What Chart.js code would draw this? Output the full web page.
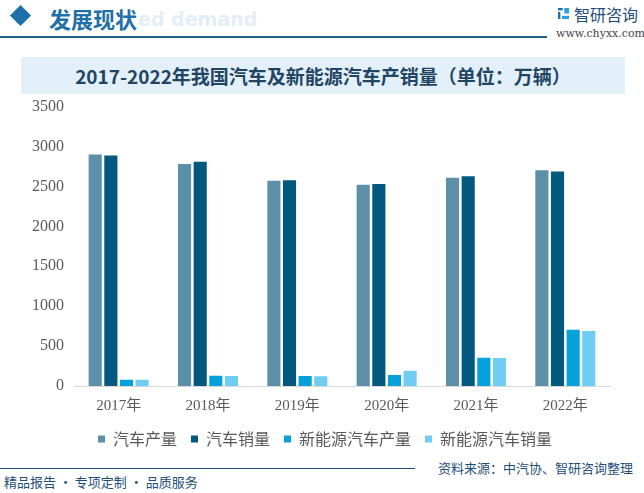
<!DOCTYPE html>
<html>
<head>
<meta charset="utf-8">
<script src="https://cdn.jsdelivr.net/npm/chart.js@4"></script>
<style>
    html, body {margin: 0; padding: 0; background: #fff;}
    body {width: 644px; height: 493px; position: relative; overflow: hidden; font-family: "Noto Sans CJK SC", "Noto Sans", sans-serif;}
    .abs {position: absolute;}
    #diamond {left: 13px; top: 8px; width: 15px; height: 15px; background: #1f6fa8; transform: rotate(45deg);}
    #head {left: 49px; top: 2px; font-size: 22px; font-weight: bold; color: #1f6fa8;}
    #ghost {left: 138px; top: 8px; font-size: 19px; font-weight: bold; color: #e4eef6; font-family: "DejaVu Sans", sans-serif;}
    #hline {left: 0; top: 36px; width: 547px; height: 2px; background: #1f6080;}
    #logo {left: 558px; top: 8px; width: 11px; height: 11px;}
    #logotext {left: 574px; top: 2px; font-size: 16px; color: #1f4e79;}
    #url {left: 556px; top: 27px; font-size: 11px; color: #444; font-family: "DejaVu Serif", serif;}
    #tbox {left: 21px; top: 57px; width: 604px; height: 37px; background: #e3f0f9;}
    #title {left: 21px; top: 57px; width: 604px; height: 37px; line-height: 37px; text-align: center; font-size: 19px; font-weight: bold; color: #1f4563;}
    #chartbox {left: 0; top: 87px; width: 636px; height: 363px;}
    #fline {left: 0; top: 468px; width: 415px; height: 1px; background: #1f4e79;}
    #slogan {left: 4px; top: 472px; font-size: 13px; color: #1f4e79;}
    #source {left: 438px; top: 458px; font-size: 13px; color: #1f4e79;}
</style>
</head>
<body>
<div class="abs" id="diamond"></div>
<div class="abs" id="ghost">ed demand</div>
<div class="abs" id="head">发展现状</div>
<div class="abs" id="hline"></div>
<svg class="abs" id="logo" viewBox="0 0 14 14">
    <rect x="0" y="0" width="6" height="3" fill="#1f6fa8"/>
    <rect x="0" y="5" width="3" height="9" fill="#1f6fa8"/>
    <rect x="8" y="0" width="6" height="7" fill="#2aa0dc"/>
    <rect x="5" y="10" width="9" height="4" fill="#2aa0dc"/>
</svg>
<div class="abs" id="logotext">智研咨询</div>
<div class="abs" id="url">www.chyxx.com</div>
<div class="abs" id="tbox"></div>
<div class="abs" id="title">2017-2022年我国汽车及新能源汽车产销量（单位：万辆）</div>
<div class="abs" id="chartbox"><canvas id="chart"></canvas></div>
<div class="abs" id="fline"></div>
<div class="abs" id="slogan">精品报告 · 专项定制 · 品质服务</div>
<div class="abs" id="source">资料来源：中汽协、智研咨询整理</div>

<script>
const YEARS = ['2017年', '2018年', '2019年', '2020年', '2021年', '2022年'];
const CAR_PRODUCTION = [2901.5, 2780.9, 2572.1, 2522.5, 2608.2, 2702.1];
const CAR_SALES = [2887.9, 2808.1, 2576.9, 2531.1, 2627.5, 2686.4];
const NEV_PRODUCTION = [79.4, 127, 124.2, 136.6, 354.5, 705.8];
const NEV_SALES = [77.7, 125.6, 120.6, 190, 352.1, 688.7];

const SERIES = [
    {label: '汽车产量', data: CAR_PRODUCTION, color: '#5e8fa8'},
    {label: '汽车销量', data: CAR_SALES, color: '#03587f'},
    {label: '新能源汽车产量', data: NEV_PRODUCTION, color: '#05a1db'},
    {label: '新能源汽车销量', data: NEV_SALES, color: '#6fcdf3'},
];

// legend keeps wide gaps between items but sits close to the axis labels,
// and is nudged right so it centres under the plot like the original
const tightLegend = {
    id: 'tightLegend',
    afterInit(chart) {
        const legend = chart.legend;
        const fit = legend.fit;
        legend.fit = function () {
            fit.apply(this, arguments);
            this.height -= 16;
        };
    },
    afterLayout(chart) {
        const legend = chart.legend;
        legend.top -= 9;
        legend.left += 9;
        legend.right += 9;
    },
};

new Chart(document.getElementById('chart'), {
    type: 'bar',
    data: {
        labels: YEARS,
        datasets: SERIES.map(s => ({
            label: s.label,
            data: s.data,
            backgroundColor: s.color,
            borderWidth: 0,
            categoryPercentage: 0.7,
            barPercentage: 0.84,
        })),
    },
    options: {
        responsive: true,
        maintainAspectRatio: false,
        animation: false,
        layout: {padding: {left: 22, right: 26, top: 2, bottom: 0}},
        scales: {
            x: {
                grid: {display: false, drawTicks: false},
                border: {color: '#d9d9d9'},
                ticks: {color: '#595959', padding: 11, font: {size: 15, family: '"Liberation Serif", "Noto Sans CJK SC", serif'}},
            },
            y: {
                min: 0,
                max: 3500,
                grid: {display: false, drawTicks: false},
                border: {display: false},
                ticks: {
                    stepSize: 500,
                    color: '#595959',
                    padding: 10,
                    font: {size: 16, family: '"Liberation Serif", serif'},
                    callback: v => String(v),
                },
            },
        },
        plugins: {
            legend: {
                position: 'bottom',
                labels: {boxWidth: 7, boxHeight: 7, padding: 14, color: '#595959', font: {size: 16, family: '"Noto Sans CJK SC", sans-serif'}},
            },
            tooltip: {enabled: false},
        },
    },
    plugins: [tightLegend],
});
</script>
</body>
</html>
